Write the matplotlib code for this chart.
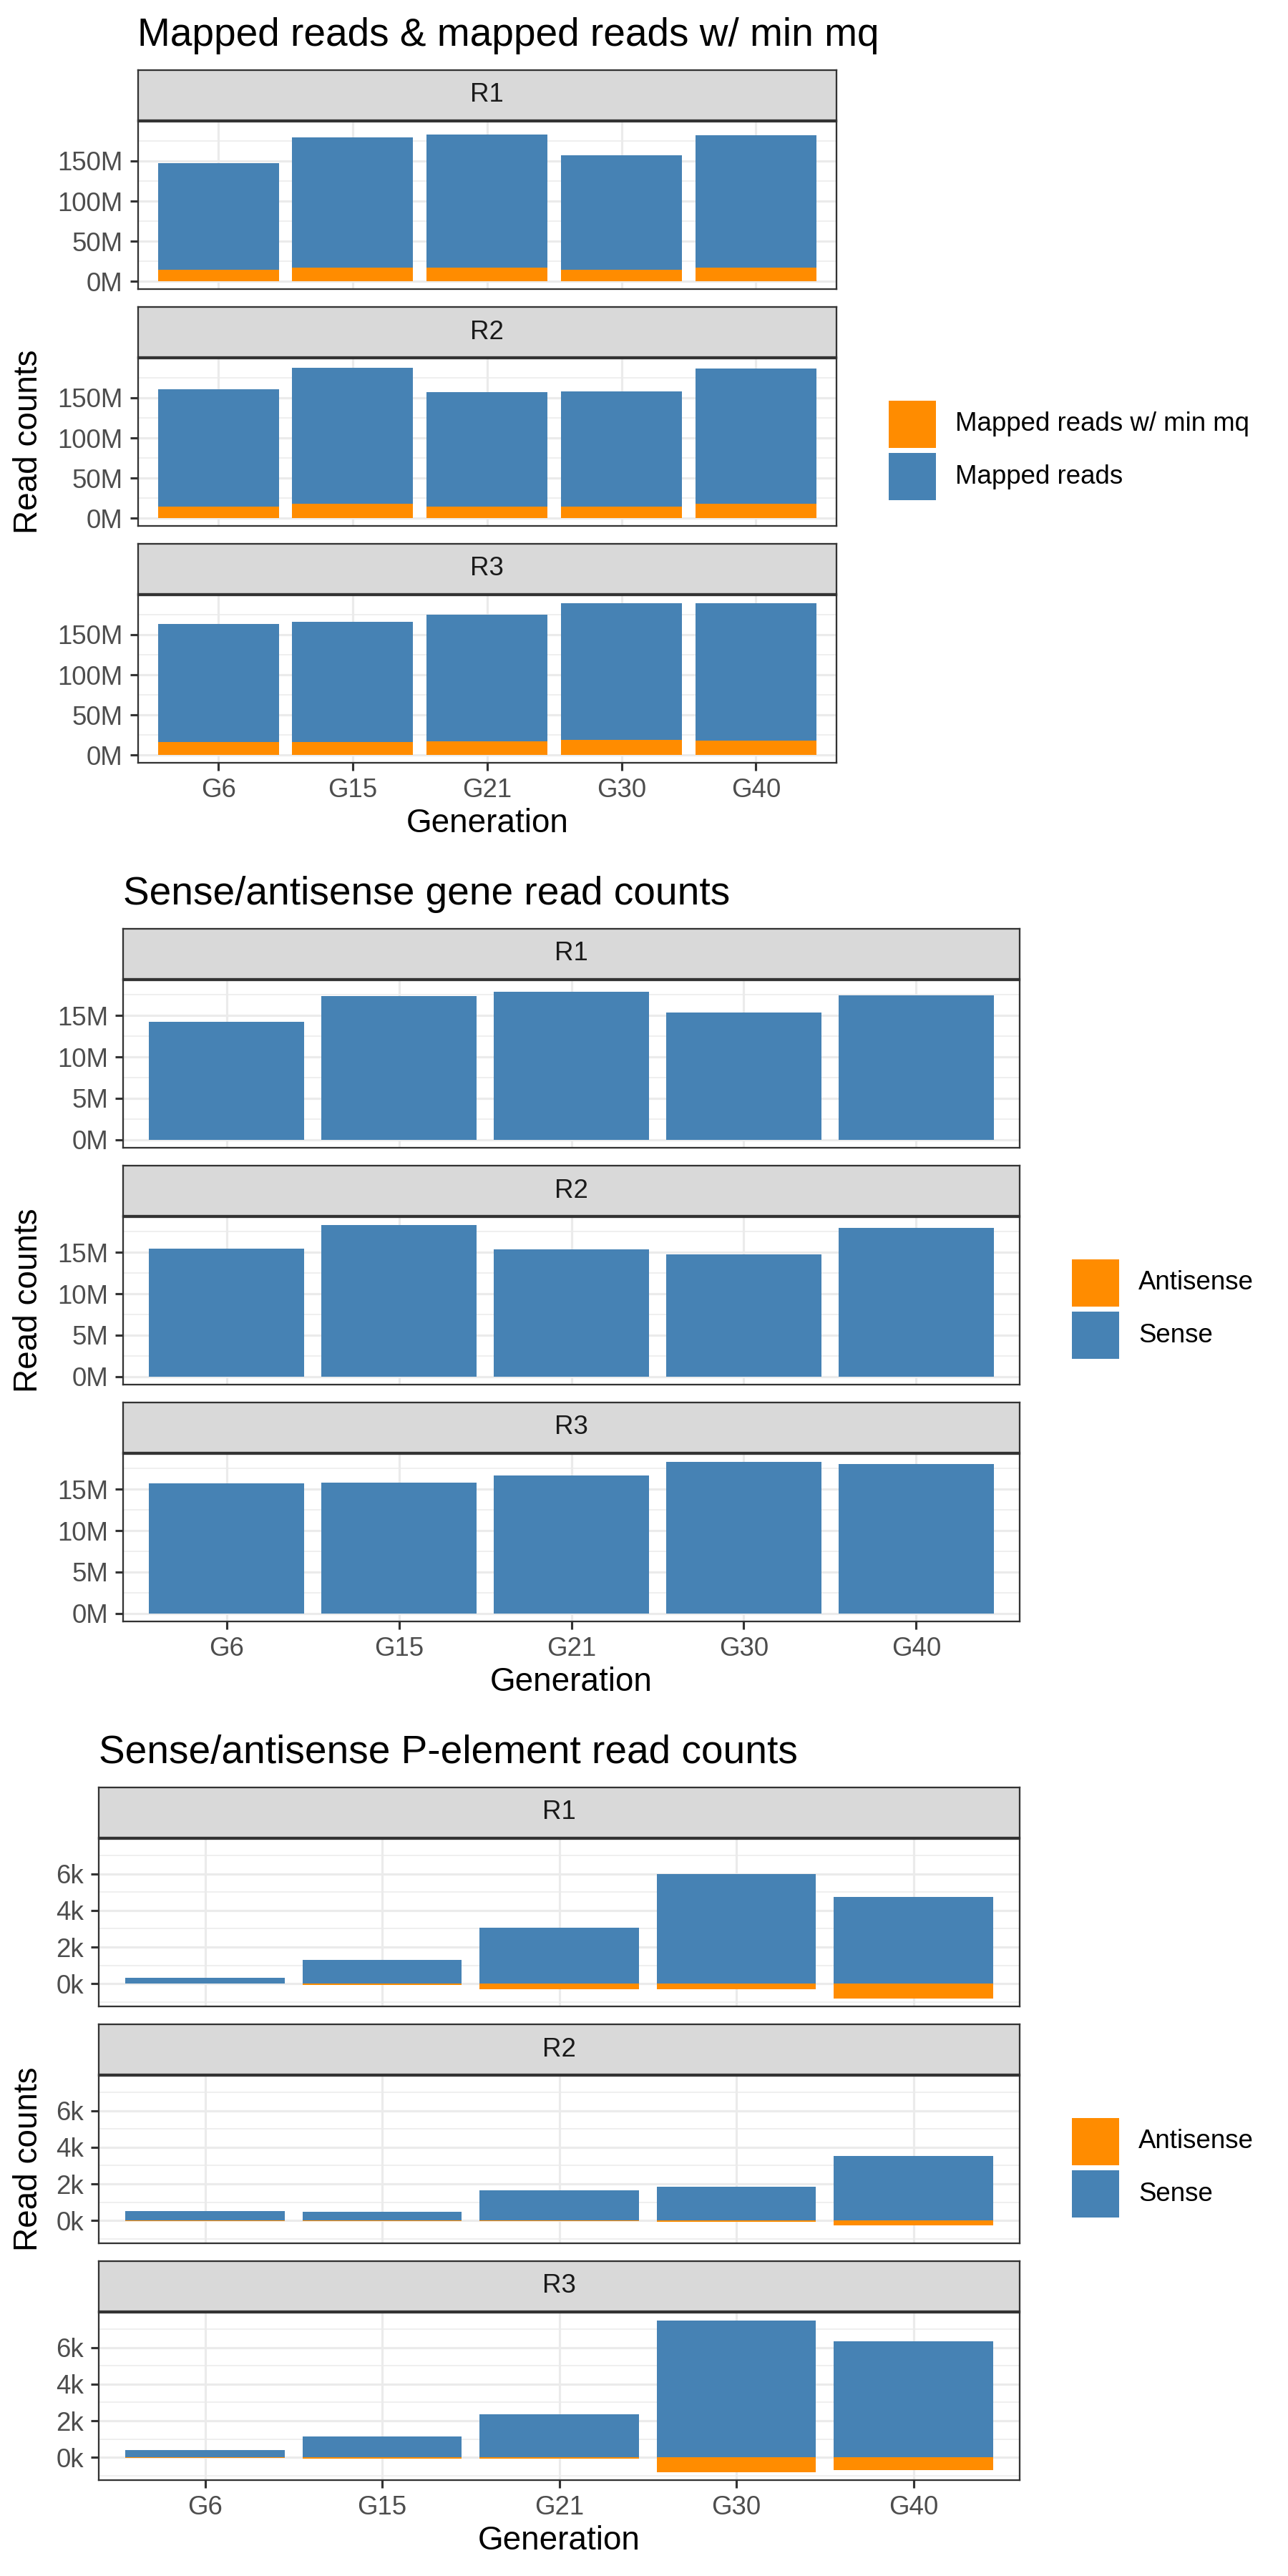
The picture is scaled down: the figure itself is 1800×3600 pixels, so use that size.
import matplotlib
matplotlib.use("Agg")
import matplotlib.pyplot as plt
from matplotlib.patches import Rectangle
from matplotlib.ticker import MultipleLocator, FuncFormatter
import numpy as np

plt.rcParams['font.family'] = ['Liberation Sans', 'DejaVu Sans']

# ------------------------------------------------------------
# Data
# ------------------------------------------------------------
GENERATIONS = ["G6", "G15", "G21", "G30", "G40"]
REPLICATES = ["R1", "R2", "R3"]

# mapped reads, rows = R1, R2, R3 (millions)
mapped_reads = [
    [147.3, 179.2, 182.6, 157.5, 181.9],
    [160.9, 187.4, 157.5, 158.2, 186.7],
    [163.6, 166.3, 175.2, 189.0, 189.5],
]
mapped_reads_mq = [
    [14.3, 17.0, 17.6, 14.9, 17.0],
    [14.9, 18.3, 14.9, 14.3, 17.7],
    [16.3, 16.3, 17.0, 19.0, 18.3],
]

# gene read counts (millions), antisense negative
gene_sense = [
    [14.28, 17.37, 17.89, 15.33, 17.43],
    [15.46, 18.29, 15.33, 14.74, 17.96],
    [15.72, 15.79, 16.63, 18.33, 18.00],
]
gene_antisense = [
    [-0.03, -0.04, -0.04, -0.03, -0.04],
    [-0.03, -0.04, -0.03, -0.03, -0.04],
    [-0.03, -0.03, -0.04, -0.04, -0.04],
]

# P-element read counts (thousands), antisense negative
pele_sense = [
    [0.30, 1.30, 3.07, 6.00, 4.73],
    [0.50, 0.47, 1.66, 1.86, 3.52],
    [0.38, 1.15, 2.37, 7.49, 6.33],
]
pele_antisense = [
    [-0.01, -0.06, -0.30, -0.30, -0.80],
    [-0.02, -0.02, -0.03, -0.09, -0.27],
    [-0.02, -0.09, -0.09, -0.83, -0.68],
]

BLUE = "#4682B4"
ORANGE = "#FF8C00"
GRID = "#EBEBEB"
DARK = "#333333"

W, H = 1800, 3600
SEC_H = 1200

fig = plt.figure(figsize=(6, 12), dpi=300)


def fbox(sec, x0, y0, x1, y1):
    top = sec * SEC_H
    return [x0 / W, 1 - (top + y1) / H, (x1 - x0) / W, (y1 - y0) / H]


def fx(x):
    return x / W


def fy(sec, y):
    return 1 - (sec * SEC_H + y) / H


sections = [
    dict(title="Mapped reads & mapped reads w/ min mq",
         back=mapped_reads, front=mapped_reads_mq, scale=1e6, unit="M",
         major=50, minor=25, left=192.5, right=1169, key_x=1241.6,
         labels=["Mapped reads w/ min mq", "Mapped reads"]),
    dict(title="Sense/antisense gene read counts",
         back=gene_sense, front=gene_antisense, scale=1e6, unit="M",
         major=5, minor=2.5, left=172, right=1425, key_x=1498,
         labels=["Antisense", "Sense"]),
    dict(title="Sense/antisense P-element read counts",
         back=pele_sense, front=pele_antisense, scale=1e3, unit="k",
         major=2, minor=1, left=138, right=1425, key_x=1498,
         labels=["Antisense", "Sense"]),
]

STRIP_TOPS = [98, 429, 760]
STRIP_H = 70
PANEL_H = 234
x = np.arange(len(GENERATIONS))

for s, cfg in enumerate(sections):
    back = np.array(cfg["back"]) * cfg["scale"]
    front = np.array(cfg["front"]) * cfg["scale"]
    lo = min(0, back.min(), front.min())
    hi = max(0, back.max(), front.max())
    pad = (hi - lo) * 0.05
    unit, scale = cfg["unit"], cfg["scale"]

    for r, rep in enumerate(REPLICATES):
        st = STRIP_TOPS[r]
        # strip
        sax = fig.add_axes(fbox(s, cfg["left"], st, cfg["right"], st + STRIP_H))
        sax.set_facecolor("#D9D9D9")
        sax.set_xticks([])
        sax.set_yticks([])
        for sp in sax.spines.values():
            sp.set_color(DARK)
            sp.set_linewidth(0.55)
        sax.text(0.5, 0.5, rep, ha="center", va="center", fontsize=8.8,
                 color="#1A1A1A", transform=sax.transAxes)

        # panel
        pt = st + STRIP_H + 2
        ax = fig.add_axes(fbox(s, cfg["left"], pt, cfg["right"], pt + PANEL_H))
        ax.bar(x, back[r], width=0.9, color=BLUE, linewidth=0)
        ax.bar(x, front[r], width=0.9, color=ORANGE, linewidth=0)
        ax.set_xlim(-0.6, len(GENERATIONS) - 0.4)
        ax.set_ylim(lo - pad, hi + pad)
        ax.set_axisbelow(True)
        ax.yaxis.set_major_locator(MultipleLocator(cfg["major"] * scale))
        ax.yaxis.set_minor_locator(MultipleLocator(cfg["minor"] * scale))
        ax.yaxis.set_major_formatter(
            FuncFormatter(lambda v, p, sc=scale, u=unit: f"{v / sc:g}{u}"))
        ax.set_xticks(x)
        ax.grid(True, which="major", color=GRID, linewidth=0.75)
        ax.grid(True, which="minor", axis="y", color=GRID, linewidth=0.38)
        ax.tick_params(axis="y", which="minor", length=0)
        ax.tick_params(axis="both", which="major", length=2.75, width=0.75,
                       color=DARK, pad=2.2, labelsize=8.8, labelcolor="#4D4D4D")
        if r < 2:
            ax.tick_params(axis="x", which="major", length=0, labelbottom=False)
        else:
            ax.set_xticklabels(GENERATIONS)
        for sp in ax.spines.values():
            sp.set_color(DARK)
            sp.set_linewidth(0.55)

    # title and axis titles
    fig.text(fx(cfg["left"]), fy(s, 64), cfg["title"], fontsize=13.2,
             ha="left", va="baseline", color="black")
    fig.text(fx((cfg["left"] + cfg["right"]) / 2), fy(s, 1151), "Generation",
             fontsize=11, ha="center", va="center", color="black")
    fig.text(fx(40), fy(s, 617), "Read counts", fontsize=11, rotation=90,
             ha="center", va="center", color="black")

    # legend
    for k, (lab, col) in enumerate(zip(cfg["labels"], [ORANGE, BLUE])):
        ky = 560 + k * 73
        fig.add_artist(Rectangle((fx(cfg["key_x"]), fy(s, ky + 66)),
                                 66 / W, 66 / H, facecolor=col, edgecolor="none",
                                 transform=fig.transFigure))
        fig.text(fx(cfg["key_x"] + 93), fy(s, ky + 33), lab, fontsize=8.8,
                 ha="left", va="center", color="black")

fig.savefig("out.png", dpi=300, facecolor="white")
